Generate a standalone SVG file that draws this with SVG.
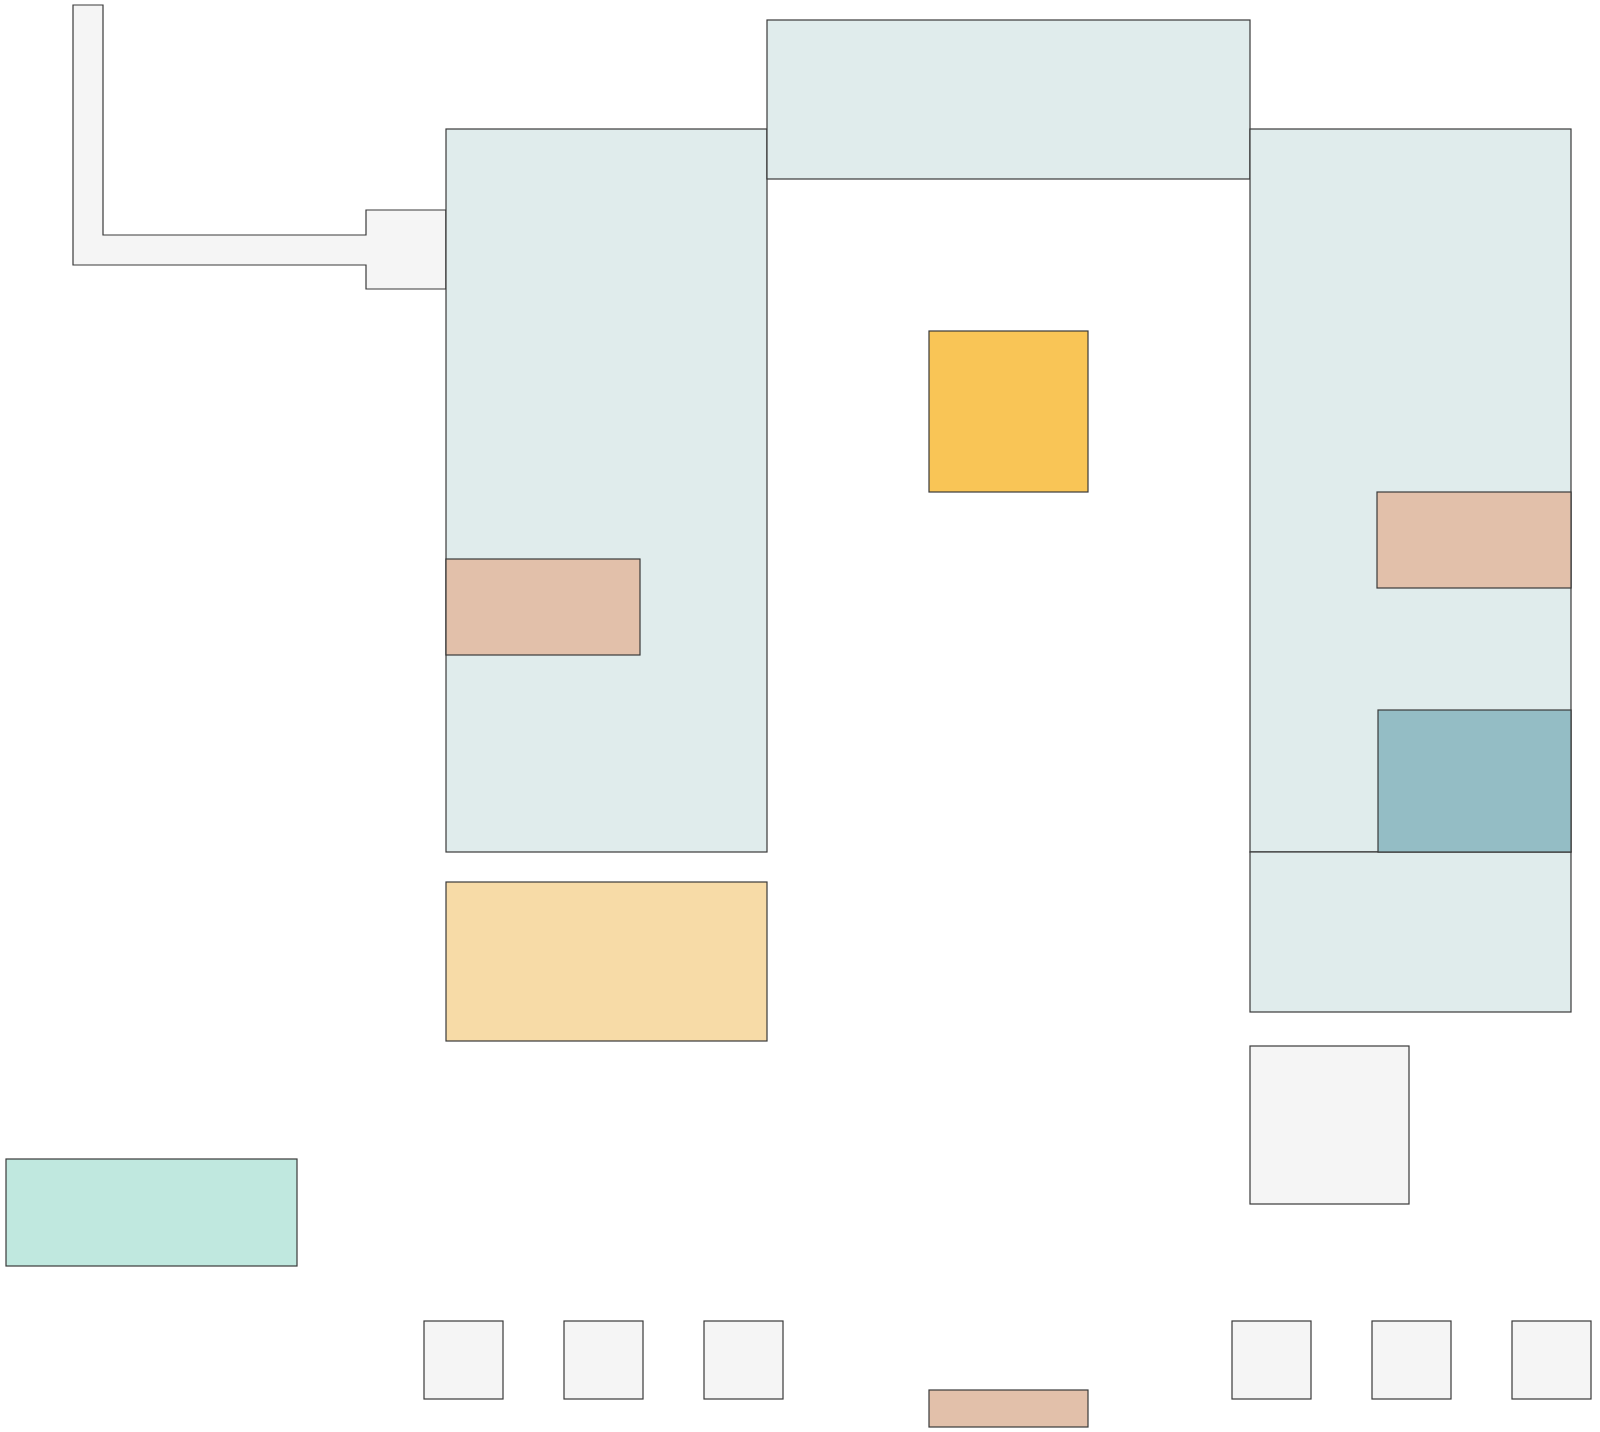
<svg xmlns="http://www.w3.org/2000/svg" width="1600" height="1432" viewBox="0 0 1600 1432">
<style>
.s{stroke:#3a3a3a;stroke-width:1.2}
.room{fill:#e0ecec}
.brown{fill:#e2c0aa}
.gray{fill:#f5f5f5}
</style>
<rect width="1600" height="1432" fill="#ffffff"/>
<g id="corridor"><polygon class="s gray" points="73,5 103,5 103,235 366,235 366,210 446,210 446,289 366,289 366,265 73,265"/></g>
<g id="left-wing"><rect class="s room" x="446" y="129" width="321" height="723"/></g>
<g id="top-wing"><rect class="s room" x="767" y="20" width="483" height="159"/></g>
<g id="right-wing"><rect class="s room" x="1250" y="129" width="321" height="723"/></g>
<g id="right-wing-lower"><rect class="s room" x="1250" y="852" width="321" height="160"/></g>
<g id="left-brown"><rect class="s brown" x="446" y="559" width="194" height="96"/></g>
<g id="right-brown"><rect class="s brown" x="1377" y="492" width="194" height="96"/></g>
<g id="teal"><rect class="s" fill="#94bdc5" x="1378" y="710" width="193" height="142"/></g>
<g id="yellow"><rect class="s" fill="#f9c556" x="929" y="331" width="159" height="161"/></g>
<g id="light-yellow"><rect class="s" fill="#f7dba7" x="446" y="882" width="321" height="159"/></g>
<g id="gray-square"><rect class="s gray" x="1250" y="1046" width="159" height="158"/></g>
<g id="mint"><rect class="s" fill="#c0e8df" x="6" y="1159" width="291" height="107"/></g>
<g id="brown-bar"><rect class="s brown" x="929" y="1390" width="159" height="37"/></g>
<g id="sq1"><rect class="s gray" x="424" y="1321" width="79" height="78"/></g>
<g id="sq2"><rect class="s gray" x="564" y="1321" width="79" height="78"/></g>
<g id="sq3"><rect class="s gray" x="704" y="1321" width="79" height="78"/></g>
<g id="sq4"><rect class="s gray" x="1232" y="1321" width="79" height="78"/></g>
<g id="sq5"><rect class="s gray" x="1372" y="1321" width="79" height="78"/></g>
<g id="sq6"><rect class="s gray" x="1512" y="1321" width="79" height="78"/></g>
<g id="connectors"></g>
</svg>
